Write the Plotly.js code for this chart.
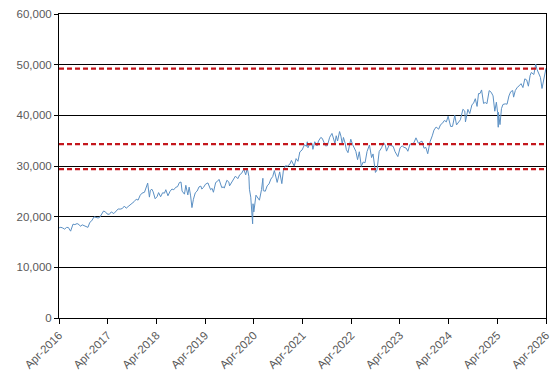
<!DOCTYPE html>
<html>
<head>
<meta charset="utf-8">
<script src="https://cdn.plot.ly/plotly-3.0.1.min.js"></script>
<style>
html,body{margin:0;padding:0;background:#fff;}
#chart{width:555px;height:377px;}
</style>
</head>
<body>
<div id="chart"></div>
<script>
const dates = [
"2016-04-01","2016-04-15","2016-04-29","2016-05-13","2016-05-27","2016-06-10","2016-06-27","2016-07-15","2016-07-29","2016-08-15","2016-08-31","2016-09-09","2016-09-22","2016-10-07","2016-10-21","2016-11-04","2016-11-18","2016-12-02","2016-12-20",
"2017-01-03","2017-01-19","2017-02-01","2017-02-15","2017-03-01","2017-03-15","2017-03-27","2017-04-13","2017-04-28","2017-05-17","2017-06-01","2017-06-19","2017-07-03","2017-07-20","2017-08-04","2017-08-18","2017-09-01","2017-09-15","2017-10-02","2017-10-16","2017-11-01","2017-11-15","2017-12-01","2017-12-15",
"2018-01-02","2018-01-16","2018-01-26","2018-02-08","2018-02-15","2018-02-27","2018-03-08","2018-03-23","2018-04-06","2018-04-18","2018-05-03","2018-05-18","2018-06-01","2018-06-11","2018-06-27","2018-07-13","2018-07-27","2018-08-10","2018-08-24","2018-09-07","2018-09-21","2018-10-03","2018-10-11","2018-10-29","2018-11-08","2018-11-23","2018-12-03","2018-12-14","2018-12-24",
"2019-01-04","2019-01-18","2019-02-01","2019-02-15","2019-03-01","2019-03-08","2019-03-20","2019-04-05","2019-04-23","2019-05-13","2019-05-24","2019-06-03","2019-06-20","2019-07-03","2019-07-15","2019-08-05","2019-08-16","2019-08-23","2019-09-12","2019-09-27","2019-10-02","2019-10-18","2019-11-01","2019-11-15","2019-12-03","2019-12-17","2019-12-31",
"2020-01-17","2020-01-31","2020-02-12","2020-02-24","2020-02-28","2020-03-09","2020-03-16","2020-03-23","2020-03-26","2020-04-01","2020-04-17","2020-05-01","2020-05-13","2020-05-29","2020-06-08","2020-06-11","2020-06-26","2020-07-10","2020-07-24","2020-08-07","2020-08-21","2020-09-02","2020-09-23","2020-10-12","2020-10-28","2020-11-09","2020-11-24","2020-12-10","2020-12-28",
"2021-01-08","2021-01-29","2021-02-12","2021-02-26","2021-03-12","2021-03-29","2021-04-16","2021-04-30","2021-05-07","2021-05-12","2021-05-28","2021-06-11","2021-06-18","2021-07-02","2021-07-19","2021-07-30","2021-08-16","2021-08-27","2021-09-10","2021-09-20","2021-10-04","2021-10-22","2021-11-08","2021-11-19","2021-11-30","2021-12-10","2021-12-20",
"2022-01-04","2022-01-14","2022-01-24","2022-02-02","2022-02-14","2022-02-24","2022-03-08","2022-03-29","2022-04-12","2022-04-26","2022-05-06","2022-05-19","2022-06-01","2022-06-16","2022-06-30","2022-07-14","2022-07-29","2022-08-16","2022-09-01","2022-09-12","2022-09-30","2022-10-12","2022-10-28","2022-11-15","2022-11-30","2022-12-13","2022-12-22",
"2023-01-12","2023-01-27","2023-02-10","2023-02-24","2023-03-09","2023-03-17","2023-04-03","2023-04-18","2023-05-02","2023-05-18","2023-05-31","2023-06-16","2023-06-30","2023-07-14","2023-07-31","2023-08-18","2023-08-31","2023-09-14","2023-09-29","2023-10-13","2023-10-27","2023-11-14","2023-11-30","2023-12-13","2023-12-29",
"2024-01-17","2024-01-31","2024-02-14","2024-02-29","2024-03-15","2024-03-28","2024-04-16","2024-04-30","2024-05-17","2024-05-30","2024-06-14","2024-06-28","2024-07-17","2024-07-31","2024-08-05","2024-08-23","2024-09-06","2024-09-23","2024-10-04","2024-10-18","2024-10-31","2024-11-11","2024-11-22","2024-12-04","2024-12-19","2024-12-31",
"2025-01-13","2025-01-30","2025-02-14","2025-02-28","2025-03-13","2025-03-25","2025-04-03","2025-04-08","2025-04-09","2025-04-21","2025-05-02","2025-05-13","2025-05-30","2025-06-13","2025-06-27","2025-07-10","2025-07-25","2025-08-01","2025-08-14","2025-08-29","2025-09-12","2025-09-26","2025-10-10","2025-10-24","2025-11-07","2025-11-20","2025-12-03","2025-12-12","2025-12-31",
"2026-01-09","2026-01-14","2026-01-23","2026-02-05","2026-02-18","2026-03-02","2026-03-10","2026-03-20","2026-04-01"
];
const values = [
17790,17900,17770,17540,17870,17870,17140,18520,18430,18640,18400,18090,18390,18240,18150,17890,18870,19170,19970,
19880,19730,19890,20610,21115,20950,20550,20450,20940,20610,21140,21530,21480,21610,22090,21670,21990,22270,22560,22960,23440,23270,24230,24650,
24820,25800,26620,23860,25200,25410,24900,23530,23930,24750,23930,24720,24640,25320,24120,25020,25450,25310,25790,25920,26740,26830,25050,24440,26190,24290,25830,24100,21790,
23430,24710,25060,25880,26030,25450,25750,26420,26660,25320,25590,24820,26750,26970,27360,25720,25890,25630,27180,26820,26080,26770,27350,28000,27500,28270,28540,
29350,28260,29550,27960,25410,23850,20190,18590,22550,20940,24240,23720,23250,25380,27570,25130,25020,26080,26470,27430,27930,29100,26760,28840,26520,29160,30050,29990,30400,
31100,29980,31460,30930,32780,33170,34200,33870,34780,33590,34530,34480,33290,34790,33960,34940,35630,35460,34610,33970,34000,35680,36430,35600,34480,35970,34930,
36800,35910,34360,35630,34570,33220,32630,35290,34220,33240,32900,31250,32810,29930,30780,30630,32850,34150,31660,32380,28730,29210,32860,33590,34590,34110,32930,
34190,33980,33870,32820,32250,31860,33600,33980,33680,33540,32910,34300,34410,34510,35560,34500,34720,34910,33510,33670,32420,34830,35950,37090,37690,
37270,38150,38420,38990,38710,39810,37800,37820,40000,38110,38590,39120,41200,40840,38700,41180,40350,42120,42350,43280,41760,44290,44300,45010,42340,42540,
42300,44880,44550,43840,40810,42590,40550,37650,40610,38170,41320,42140,42270,42200,43820,44650,44900,43590,44910,45540,45830,46250,45480,47200,46990,45750,47880,48460,48060,
49500,50100,49100,48300,47500,45300,46600,47400,49300
];
const levels = [49200, 34300, 29400];
const yTicks = [0,10000,20000,30000,40000,50000,60000];
const xTickLabels = ["Apr-2016","Apr-2017","Apr-2018","Apr-2019","Apr-2020","Apr-2021","Apr-2022","Apr-2023","Apr-2024","Apr-2025","Apr-2026"];
const xTickVals = xTickLabels.map(s => s.split("-")[1] + "-04-01");

const traces = [{
  x: dates, y: values, type: "scatter", mode: "lines",
  line: {color: "#5b90c4", width: 1},
  hoverinfo: "skip", showlegend: false
}];

const shapes = levels.map(v => ({
  type: "line", xref: "paper", x0: 0, x1: 1, yref: "y", y0: v, y1: v,
  line: {color: "#c4161c", width: 2.2, dash: "5px,3px"}
}));

const tickFont = {family: "Liberation Sans, Arial, sans-serif", size: 11.5, color: "#595959"};

const layout = {
  width: 555, height: 377,
  margin: {l: 59, r: 9, t: 14, b: 59},
  paper_bgcolor: "#ffffff", plot_bgcolor: "#ffffff",
  showlegend: false,
  xaxis: {
    type: "date",
    range: ["2016-04-01", "2026-04-01"],
    tickvals: xTickVals, ticktext: xTickLabels,
    tickangle: -45, tickfont: tickFont,
    ticks: "outside", ticklen: 5, tickcolor: "#000", tickwidth: 1,
    showgrid: false, zeroline: false,
    showline: true, linecolor: "#000", linewidth: 1, mirror: true
  },
  yaxis: {
    range: [0, 60000],
    tickvals: yTicks, tickformat: ",d",
    tickfont: tickFont,
    ticks: "outside", ticklen: 4, tickcolor: "#000", tickwidth: 1,
    showgrid: true, gridcolor: "#000", gridwidth: 1,
    zeroline: false,
    showline: true, linecolor: "#000", linewidth: 1, mirror: true
  },
  shapes: shapes
};

Plotly.newPlot("chart", traces, layout, {staticPlot: true, displayModeBar: false});
</script>
</body>
</html>
